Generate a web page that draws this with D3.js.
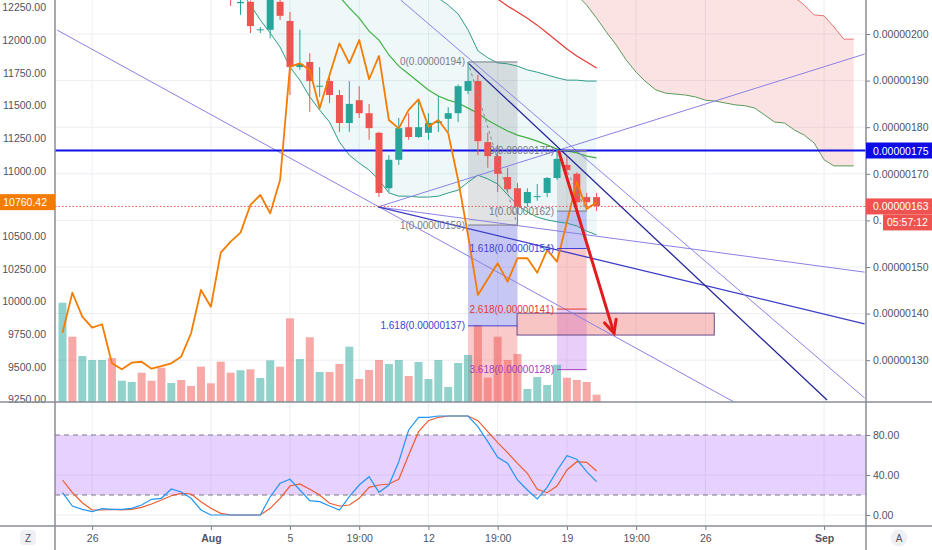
<!DOCTYPE html>
<html><head><meta charset="utf-8">
<script src="https://cdn.jsdelivr.net/npm/d3@7"></script>
<style>body{margin:0;background:#fff}svg{display:block;font-family:"Liberation Sans",Arial,sans-serif}</style>
</head><body><svg id="c" width="932" height="550"></svg>
<script>
// ---------------- DATA ----------------
// 12h bars, index 1..55 (Jul 24 12:00 .. Aug 21), price in units of 1e-8 BTC
const tickIdx    = [4, 16, 24, 31, 38, 45, 52, 59, 66, 78];
const tickLabels = ["26","Aug","5","19:00","12","19:00","19","19:00","26","Sep"];
const leftTicks  = [9250,9500,9750,10000,10250,10500,10750,11000,11250,11500,11750,12000,12250];
const rightTicks = [130,140,150,160,170,180,190,200];
const oscTicks   = [0,40,80];

const candleStart = 18;
const candleOpen  = [209.0,206.6,206.9,200.8,200.9,206.9,202.8,192.9,194.0,188.7,189.9,186.9,180.9,185.8,183.0,178.8,166.9,173.0,180.0,177.9,178.8,180.9,181.8,183.0,187.8,189.9,176.8,173.8,169.3,166.9,163.7,165.0,165.9,169.1,171.9,170.0,165.0,165.0];
const candleHigh  = [210.0,207.5,207.2,201.5,209.0,207.8,204.7,200.9,195.9,192.9,190.6,188.0,189.9,188.8,185.0,179.0,174.0,182.0,183.0,185.8,183.0,186.7,184.3,189.2,194.0,191.2,178.8,176.2,171.3,168.0,166.9,167.8,169.3,175.1,173.6,170.3,165.9,165.9];
const candleLow   = [206.0,204.1,200.2,200.2,199.1,203.0,186.9,192.3,183.3,186.5,185.2,179.0,179.0,182.0,177.3,165.0,166.1,171.9,177.3,177.7,177.3,179.0,179.0,181.1,187.1,174.0,171.3,166.1,165.9,159.0,162.9,164.2,165.0,168.7,169.7,162.9,162.9,162.0];
const candleClose = [207.6,206.9,201.7,201.0,208.0,203.9,192.9,193.6,189.9,188.9,186.9,180.9,185.0,183.0,179.8,165.9,173.0,179.8,177.9,180.0,180.9,181.3,183.0,188.8,189.9,177.0,173.8,170.0,166.7,162.9,166.1,165.2,169.1,173.2,170.8,163.9,163.9,163.1];

const volume = [99.3,65.3,46,42,42,44,21.3,20,29.3,21.3,34.3,19,22,16,35.3,18.7,40.3,29.3,31.7,32.7,24,41.7,35.3,83.7,43,64.7,30,30,38,55.3,23,32,42,38,42,26,40,23,42,15,39,47,77,24.3,65.3,42,48,13,25,17,37.3,24.3,22,20,7.3];
const volUp  = [1,0,1,1,1,0,1,1,0,0,0,1,0,0,0,0,0,0,1,0,1,1,0,0,1,0,1,0,0,1,0,0,0,1,1,0,1,1,1,1,1,1,0,0,0,0,0,1,1,1,1,0,0,0,0];

// BTCUSD overlay (left axis)
const btcUsd = [9761,10067,9884,9800,9826,9527,9481,9532,9539,9486,9506,9527,9578,9757,10088,9960,10374,10458,10527,10739,10815,10675,10930,11797,11823,11772,11479,11733,11976,11823,12001,11701,11879,11389,11325,11466,11547,11338,11389,11287,10930,10509,10050,10172,10292,10152,10331,10331,10220,10394,10305,10608,10915,10708,10760.42];

// Bollinger bands
const bbStart = 19;
const bbUpper = [214,215,216,217,218,219,220,220,219,218,217,216,215,214,213,212,211,210,209.5,208.6,207.7,206.2,204.3,200.9,196.4,194.9,193.8,193.6,193.1,192.3,191.8,191.2,190.6,190.1,190.1,189.9,189.9];
const bbLower = [209.4,206.2,203.0,200.2,197.2,192.9,190.1,186.5,183.7,181.1,176.8,174.0,172.3,170.8,168.7,165.9,165.2,165.2,165.0,165.0,165.2,165.9,166.5,168.2,169.7,168.9,167.8,165.5,163.3,161.8,160.7,160.1,159.7,159.4,158.8,157.7,156.9];
const basisStart = 28;
const bbBasis = [210.5,208.0,205.6,203.4,200.6,198.7,195.5,193.1,191.4,189.7,188.0,186.7,185.8,185.2,184.1,183.0,181.5,180.3,179.2,178.3,177.7,177.0,176.2,175.3,174.9,174.5,173.8,173.4];
const redStart = 44;
const redBand = [209.0,207.5,206.0,204.7,203.4,201.9,200.2,198.5,196.8,195.3,194.0,192.7];

// Ichimoku cloud (shifted forward)
const cloudStart = 53;
const cloudUpper = [212,212,212,212,212,212,212,212,212,212,212,212,212,212,212,212,212,212,212,212,212,212,207.9,206.2,204.1,203.9,201.5,198.9,198.9];
const cloudLower = [208.4,206.2,203.4,200.4,197.6,194.4,191.8,189.7,188.0,187.3,187.1,186.9,186.5,185.8,185.6,185.2,184.8,184.6,184.1,182.6,181.1,180.9,179.4,178.3,176.6,173.0,171.7,171.7,171.7];

// Stochastic RSI
const stochK = [22.3,9,5.7,3.3,6.3,5.7,5.7,6.7,10,15.7,16.7,26,23,16.7,5,0,0,0,0,0,0,18.3,31.7,35.7,25,14.3,13.3,9,5,18.3,30,38.3,22.7,30,53.3,85,97.7,97.7,99,99,99,99,88.3,73.3,57.7,51.7,35,25,16,27.7,44.3,59.3,55.7,43.3,33.3];
const stochD = [35,22.3,12.3,5,5,5.7,5,5.7,7.7,11,15,19.3,21.7,21,13.3,6.7,1.7,0,0,0,0,6.7,16.7,29,31,25.7,20,11.7,9,10,16.7,27.7,30,31,35.7,60,83.3,94.3,97.7,99,99,99,94.3,83.3,72.3,62.3,51.7,41.7,25.7,22.3,29,45,53.3,52.7,44];

// Drawings: [bar1, price1, bar2, price2]
const trendLines  = [[0.44,200.86,68.9,121.03],[32.9,162.9,82.1,195.7],[32.9,162.9,82.1,148.9],[32.9,162.9,82.1,137.8],[42.0,193.8,78.3,121.46],[35.2,207.3,82.1,121.9]];
const trendColors = ["#8b80e6","#8b80e6","#8b80e6","#3c3cc8","#24249a","#8b80e6"];
const hLevel = 175;
const lastPrice = 163;
const lastBtc = 10760.42;
const countdown = "05:57:12";
const fib1 = {k1:42, k2:47, p0:194, p1:159, levels:[0,1,1.618,2.618]};
const fib2 = {k1:51, k2:54, p0:175, p1:162, levels:[0,1,1.618,2.618,3.618]};
const arrow = [51.2,174.7,56.76,135.8];
const rectBox = [46.96,140.1,66.9,135.4];

// ---------------- CHART ----------------
const svg = d3.select("#c");
const X0=55, X1=866, MB=402, OB=526;
const x  = d3.scaleLinear().domain([0.242, 82.24]).range([X0, X1]);
const yR = d3.scaleLinear().domain([130, 200]).range([360.2, 34]);
const yL = d3.scaleLinear().domain([9250, 12250]).range([399.5, 7.5]);
const yO = d3.scaleLinear().domain([0, 100]).range([515, 415]);
const yV = d3.scaleLinear().domain([0, 100]).range([MB, 302]);
const fmt8 = v => (v*1e-8).toFixed(8);

svg.append("rect").attr("width",932).attr("height",550).attr("fill","#fff");
const defs = svg.append("defs");
defs.append("clipPath").attr("id","cm").append("rect").attr("x",X0).attr("y",0).attr("width",X1-X0).attr("height",MB);
defs.append("clipPath").attr("id","co").append("rect").attr("x",X0).attr("y",MB).attr("width",X1-X0).attr("height",OB-MB);

// grid
const grid = svg.append("g").attr("stroke","#eceef2").attr("stroke-width",1);
tickIdx.forEach(k=>grid.append("line").attr("x1",x(k)).attr("x2",x(k)).attr("y1",0).attr("y2",OB));
rightTicks.forEach(v=>grid.append("line").attr("x1",X0).attr("x2",X1).attr("y1",yR(v)).attr("y2",yR(v)));
[0,40].forEach(v=>grid.append("line").attr("x1",X0).attr("x2",X1).attr("y1",yO(v)).attr("y2",yO(v)));

const main = svg.append("g").attr("clip-path","url(#cm)");
const osc  = svg.append("g").attr("clip-path","url(#co)");

const pts = (start, arr) => arr.map((v,i)=>[start+i, v]);
const lineR = d3.line().x(d=>x(d[0])).y(d=>yR(d[1]));

// BB fill
const bbData = bbUpper.map((v,i)=>({k:bbStart+i, hi:v, lo:bbLower[i]}));
main.append("path").datum(bbData)
  .attr("d", d3.area().x(d=>x(d.k)).y0(d=>yR(d.lo)).y1(d=>yR(d.hi)))
  .attr("fill","rgba(40,160,175,0.08)");
// cloud fill
const cData = cloudUpper.map((v,i)=>({k:cloudStart+i, hi:v, lo:cloudLower[i]}));
main.append("path").datum(cData)
  .attr("d", d3.area().x(d=>x(d.k)).y0(d=>yR(d.lo)).y1(d=>yR(d.hi)))
  .attr("fill","rgba(240,90,90,0.17)");

// fib fills
const fibColors = {0:"#787b86",1:"#787b86",1.618:"#4040d8",2.618:"#e53935",3.618:"#a53cc0"};
const fibFills  = {1:"rgba(120,123,134,0.22)",1.618:"rgba(70,70,220,0.30)",2.618:"rgba(240,80,80,0.30)",3.618:"rgba(175,80,235,0.28)"};
function fibFill(f){
  const lv = f.levels;
  for(let i=1;i<lv.length;i++){
    const pa = f.p0+(f.p1-f.p0)*lv[i-1], pb = f.p0+(f.p1-f.p0)*lv[i];
    main.append("rect").attr("x",x(f.k1)).attr("width",x(f.k2)-x(f.k1))
      .attr("y",yR(pa)).attr("height",yR(pb)-yR(pa)).attr("fill",fibFills[lv[i]]);
  }
}
fibFill(fib1); fibFill(fib2);

// rectangle
main.append("rect").attr("x",x(rectBox[0])).attr("y",yR(rectBox[1]))
  .attr("width",x(rectBox[2])-x(rectBox[0])).attr("height",yR(rectBox[3])-yR(rectBox[1]))
  .attr("fill","rgba(235,90,90,0.35)").attr("stroke","#6b4c8a").attr("stroke-width",1);

// volume
main.selectAll(".vol").data(volume).enter().append("rect")
  .attr("x",(d,i)=>x(i+1)-4).attr("width",8)
  .attr("y",d=>yV(d)).attr("height",d=>MB-yV(d))
  .attr("fill",(d,i)=>volUp[i]?"rgba(38,166,154,0.5)":"rgba(239,83,80,0.5)");

// band lines
main.append("path").datum(pts(bbStart,bbUpper)).attr("d",lineR).attr("fill","none").attr("stroke","#2e9c88").attr("stroke-width",1);
main.append("path").datum(pts(bbStart,bbLower)).attr("d",lineR).attr("fill","none").attr("stroke","#2e9c88").attr("stroke-width",1);
main.append("path").datum(pts(basisStart,bbBasis)).attr("d",lineR).attr("fill","none").attr("stroke","#43b043").attr("stroke-width",1.2);
main.append("path").datum(pts(redStart,redBand)).attr("d",lineR).attr("fill","none").attr("stroke","#e53935").attr("stroke-width",1.2);
main.append("path").datum(pts(cloudStart,cloudUpper)).attr("d",lineR).attr("fill","none").attr("stroke","#e57373").attr("stroke-width",1);
main.append("path").datum(pts(cloudStart,cloudLower)).attr("d",lineR).attr("fill","none").attr("stroke","#5b9a5b").attr("stroke-width",1);

// trend lines
trendLines.forEach((t,i)=>main.append("line")
  .attr("x1",x(t[0])).attr("y1",yR(t[1])).attr("x2",x(t[2])).attr("y2",yR(t[3]))
  .attr("stroke",trendColors[i]).attr("stroke-width",i===3||i===4?1.3:1));

// horizontal level
main.append("line").attr("x1",X0).attr("x2",X1).attr("y1",yR(hLevel)).attr("y2",yR(hLevel))
  .attr("stroke","#1010e8").attr("stroke-width",2);

// candles
const cd = candleOpen.map((o,i)=>({k:candleStart+i,o,h:candleHigh[i],l:candleLow[i],c:candleClose[i]}));
const cg = main.append("g");
cd.forEach(d=>{
  const col = d.c>=d.o ? "#26a69a" : "#ef5350";
  cg.append("line").attr("x1",x(d.k)).attr("x2",x(d.k)).attr("y1",yR(d.h)).attr("y2",yR(d.l)).attr("stroke",col).attr("stroke-width",1);
  const top = yR(Math.max(d.o,d.c)), bot = yR(Math.min(d.o,d.c));
  cg.append("rect").attr("x",x(d.k)-3.5).attr("width",7).attr("y",top).attr("height",Math.max(1,bot-top)).attr("fill",col);
});

// BTCUSD line
main.append("path").datum(btcUsd.map((v,i)=>[i+1,v]))
  .attr("d",d3.line().x(d=>x(d[0])).y(d=>yL(d[1])))
  .attr("fill","none").attr("stroke","#f57c00").attr("stroke-width",1.8).attr("stroke-linejoin","round");

// last price dotted
main.append("line").attr("x1",X0).attr("x2",X1).attr("y1",yR(lastPrice)).attr("y2",yR(lastPrice))
  .attr("stroke","#ef5350").attr("stroke-dasharray","1.5,2").attr("stroke-width",1);

// fib lines & labels
function fibLines(f){
  f.levels.forEach(l=>{
    const p = f.p0+(f.p1-f.p0)*l, yy = yR(p);
    if(yy<0||yy>MB) return;
    main.append("line").attr("x1",x(f.k1)).attr("x2",x(f.k2)).attr("y1",yy).attr("y2",yy).attr("stroke",fibColors[l]).attr("stroke-width",1);
    main.append("text").attr("x",x(f.k1)-3).attr("y",yy+3.5).attr("text-anchor","end")
      .attr("font-size",10).attr("fill",fibColors[l]).text(`${l}(${fmt8(Math.round(p))})`);
  });
  main.append("line").attr("x1",x(f.k1)).attr("y1",yR(f.p0)).attr("x2",x(f.k2)).attr("y2",yR(f.p1))
    .attr("stroke","#8a8d96").attr("stroke-dasharray","3,3").attr("stroke-width",1);
}
fibLines(fib1); fibLines(fib2);

// arrow
{
  const ax1=x(arrow[0]), ay1=yR(arrow[1]), ax2=x(arrow[2]), ay2=yR(arrow[3]);
  const ang = Math.atan2(ay2-ay1, ax2-ax1), L=14, s=0.45;
  const g = main.append("g").attr("stroke","#e21c1c").attr("stroke-width",3).attr("stroke-linecap","round").attr("fill","none");
  g.append("line").attr("x1",ax1).attr("y1",ay1).attr("x2",ax2).attr("y2",ay2);
  g.append("path").attr("d",`M${ax2-L*Math.cos(ang-s)},${ay2-L*Math.sin(ang-s)}L${ax2},${ay2}L${ax2-L*Math.cos(ang+s)},${ay2-L*Math.sin(ang+s)}`);
}

// oscillator
osc.append("rect").attr("x",X0).attr("width",X1-X0).attr("y",yO(80)).attr("height",yO(20)-yO(80)).attr("fill","rgba(170,90,250,0.28)");
[80,20].forEach(v=>osc.append("line").attr("x1",X0).attr("x2",X1).attr("y1",yO(v)).attr("y2",yO(v))
  .attr("stroke","#787b86").attr("stroke-dasharray","5,4").attr("stroke-width",1));
const lineO = d3.line().x(d=>x(d[0])).y(d=>yO(d[1]));
osc.append("path").datum(stochD.map((v,i)=>[i+1,v])).attr("d",lineO).attr("fill","none").attr("stroke","#ee5c2f").attr("stroke-width",1.2);
osc.append("path").datum(stochK.map((v,i)=>[i+1,v])).attr("d",lineO).attr("fill","none").attr("stroke","#2196f3").attr("stroke-width",1.2);

// axes
const txt = "#50535e";
function styleAxis(g){
  g.select(".domain").remove();
  g.selectAll(".tick line").attr("stroke","#787b86");
  g.selectAll("text").attr("fill",txt).attr("font-size",10.5).attr("font-family",'"Liberation Sans",Arial,sans-serif');
}
// the countdown badge sits over part of a right-axis label: only its uncovered start ("0.") shows
const cdTop = yR(lastPrice)+8, cdBot = yR(lastPrice)+24;
const rightFmt = d => { const yy = yR(d); return (yy>cdTop-6 && yy<cdBot+6) ? fmt8(d).slice(0,2) : fmt8(d); };
svg.append("g").attr("transform",`translate(${X0-1},0)`)
  .call(d3.axisLeft(yL).tickValues(leftTicks).tickFormat(d3.format(".2f")).tickSize(0).tickPadding(8)).call(styleAxis);
svg.append("g").attr("transform",`translate(${X1},0)`)
  .call(d3.axisRight(yR).tickValues(rightTicks).tickFormat(rightFmt).tickSize(4).tickPadding(3)).call(styleAxis);
svg.append("g").attr("transform",`translate(${X1},0)`)
  .call(d3.axisRight(yO).tickValues(oscTicks).tickFormat(d3.format(".2f")).tickSize(4).tickPadding(3)).call(styleAxis);
const xa = svg.append("g").attr("transform",`translate(0,${OB})`)
  .call(d3.axisBottom(x).tickValues(tickIdx).tickFormat((d,i)=>tickLabels[i]).tickSize(4).tickPadding(5)).call(styleAxis);
xa.selectAll("text").attr("font-weight",(d,i)=>(tickLabels[i]==="Aug"||tickLabels[i]==="Sep")?"bold":null);

// frame lines
const fr = svg.append("g").attr("stroke","#8a8d96").attr("stroke-width",1.5);
fr.append("line").attr("x1",X0).attr("x2",X0).attr("y1",0).attr("y2",550);
fr.append("line").attr("x1",X1).attr("x2",X1).attr("y1",0).attr("y2",550);
fr.append("line").attr("x1",0).attr("x2",932).attr("y1",MB).attr("y2",MB);
fr.append("line").attr("x1",0).attr("x2",932).attr("y1",OB).attr("y2",OB);

// price labels
function rLabel(yy, fill, t, x0){
  svg.append("rect").attr("x",x0).attr("y",yy-8).attr("width",932-x0).attr("height",16).attr("fill",fill);
  svg.append("text").attr("x",x0+ (x0===X1?7:4)).attr("y",yy+4).attr("fill","#fff").attr("font-size",10.5).text(t);
}
rLabel(yR(hLevel), "#0c0ce6", fmt8(hLevel), X1);
rLabel(yR(lastPrice), "#ef5350", fmt8(lastPrice), X1);
rLabel(yR(lastPrice)+16, "#ef5350", countdown, 883);
const ly = yL(lastBtc);
svg.append("rect").attr("x",0).attr("y",ly-8).attr("width",X0).attr("height",16).attr("fill","#f57c00");
svg.append("text").attr("x",47).attr("y",ly+4).attr("text-anchor","end").attr("fill","#fff").attr("font-size",10.5).text(lastBtc.toFixed(2));

// corner buttons
svg.append("rect").attr("x",20).attr("y",530).attr("width",16).attr("height",15).attr("rx",4).attr("fill","#eef0f4");
svg.append("text").attr("x",28).attr("y",541.5).attr("text-anchor","middle").attr("font-size",10).attr("fill","#50535e").text("Z");
svg.append("circle").attr("cx",899).attr("cy",538).attr("r",8.5).attr("fill","#eef0f4");
svg.append("text").attr("x",899).attr("y",541.5).attr("text-anchor","middle").attr("font-size",10).attr("fill","#50535e").text("A");
</script></body></html>
